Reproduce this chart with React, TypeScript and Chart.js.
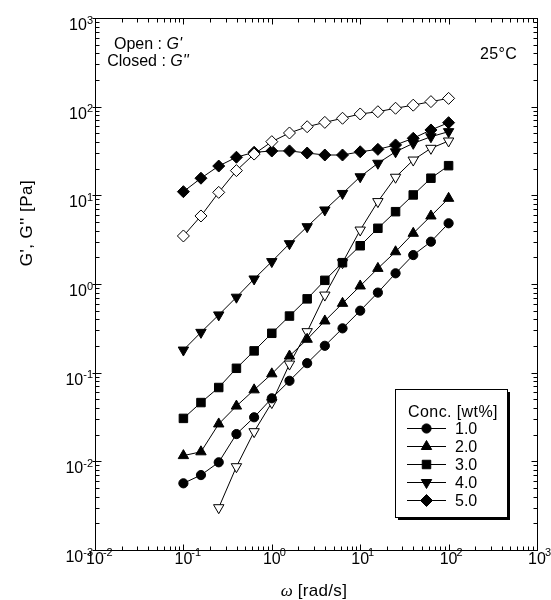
import React, { useEffect, useRef } from 'react';
import { Chart, registerables } from 'chart.js';

Chart.register(...registerables);

// Angular frequency ω [rad/s]
const omega = [0.1, 0.158, 0.251, 0.398, 0.631, 1.0, 1.585, 2.512, 3.981, 6.31, 10, 15.85, 25.12, 39.81, 63.1, 100];

// Loss modulus G'' [Pa] (closed symbols)
const gpp1 = [0.00565, 0.007, 0.00975, 0.0203, 0.0314, 0.0514, 0.081, 0.128, 0.201, 0.316, 0.5, 0.8, 1.32, 2.12, 3.0, 4.84];
const gpp2 = [0.0116, 0.0128, 0.0264, 0.042, 0.064, 0.097, 0.154, 0.238, 0.383, 0.605, 0.95, 1.5, 2.31, 3.73, 5.85, 9.25];
const gpp3 = [0.0305, 0.046, 0.068, 0.112, 0.176, 0.278, 0.435, 0.68, 1.1, 1.74, 2.7, 4.25, 6.54, 10.1, 15.6, 21.6];
const gpp4 = [0.18, 0.285, 0.448, 0.71, 1.14, 1.79, 2.85, 4.43, 6.84, 10.5, 16.2, 23, 31, 38.6, 45.8, 52.3];
const gpp5 = [11.0, 15.6, 21.4, 26.9, 30.6, 31.6, 31.7, 30.0, 28.5, 28.5, 31, 33, 37, 44, 54.6, 66];

// Storage modulus G' [Pa] (open symbols)
const gp4 = [null, null, 0.003, 0.0087, 0.0216, 0.046, 0.125, 0.29, 0.75, 1.74, 4.06, 8.5, 16, 25, 33.9, 41];
const gp5 = [3.48, 5.85, 10.8, 19.0, 29.2, 40.3, 50.5, 59.4, 66.5, 74, 82.7, 87.7, 96, 104, 114, 124];

const concLabels = ['1.0', '2.0', '3.0', '4.0', '5.0'];
const legendTitle = 'Conc. [wt%]';
const xTickExps = [-2, -1, 0, 1, 2, 3];
const yTickExps = [-3, -2, -1, 0, 1, 2, 3];
const tempLabel = '25°C';

const SANS = '"Liberation Sans", Arial, sans-serif';
const SERIF = '"Liberation Serif", "Times New Roman", serif';

type Run = { t: string; font: string; dy?: number; ls?: number };

function setLS(ctx: any, v: number) {
  if ('letterSpacing' in ctx) ctx.letterSpacing = `${v}px`;
}

function runsWidth(ctx: CanvasRenderingContext2D, runs: Run[]) {
  let w = 0;
  for (const r of runs) {
    ctx.font = r.font;
    setLS(ctx, r.ls || 0);
    w += ctx.measureText(r.t).width;
  }
  setLS(ctx, 0);
  return w;
}

function drawRuns(ctx: CanvasRenderingContext2D, runs: Run[], x: number, y: number, align: 'left' | 'center' | 'right') {
  const w = runsWidth(ctx, runs);
  let cx = align === 'left' ? x : align === 'center' ? x - w / 2 : x - w;
  ctx.textAlign = 'left';
  ctx.textBaseline = 'alphabetic';
  for (const r of runs) {
    ctx.font = r.font;
    setLS(ctx, r.ls || 0);
    ctx.fillText(r.t, cx, y + (r.dy || 0));
    cx += ctx.measureText(r.t).width;
  }
  setLS(ctx, 0);
}

function drawMarker(ctx: CanvasRenderingContext2D, style: string, rot: number, r: number, x: number, y: number, fill: string) {
  ctx.beginPath();
  if (style === 'circle') {
    ctx.arc(x, y, r, 0, Math.PI * 2);
  } else if (style === 'triangle') {
    let rad = (rot * Math.PI) / 180;
    ctx.moveTo(x + Math.sin(rad) * r, y - Math.cos(rad) * r);
    rad += (2 * Math.PI) / 3;
    ctx.lineTo(x + Math.sin(rad) * r, y - Math.cos(rad) * r);
    rad += (2 * Math.PI) / 3;
    ctx.lineTo(x + Math.sin(rad) * r, y - Math.cos(rad) * r);
    ctx.closePath();
  } else if (style === 'rect') {
    const s = Math.SQRT1_2 * r;
    ctx.rect(x - s, y - s, 2 * s, 2 * s);
  } else if (style === 'rectRot') {
    ctx.moveTo(x, y - r);
    ctx.lineTo(x + r, y);
    ctx.lineTo(x, y + r);
    ctx.lineTo(x - r, y);
    ctx.closePath();
  }
  ctx.fillStyle = fill;
  ctx.fill();
  ctx.lineWidth = 1;
  ctx.strokeStyle = '#000';
  ctx.stroke();
}

const legendMarkers = [
  { style: 'circle', rot: 0, r: 4.6 },
  { style: 'triangle', rot: 0, r: 6 },
  { style: 'rect', rot: 0, r: 6 },
  { style: 'triangle', rot: 180, r: 6 },
  { style: 'rectRot', rot: 0, r: 6 },
];

const decorPlugin = {
  id: 'decor',
  afterDraw(chart: any) {
    const { ctx, chartArea: a } = chart;
    const xs = chart.scales.x;
    const ys = chart.scales.y;
    ctx.save();
    ctx.strokeStyle = '#000';
    ctx.fillStyle = '#000';
    ctx.lineWidth = 1;
    const L = Math.round(a.left) + 0.5;
    const R = Math.round(a.right) + 0.5;
    const T = Math.round(a.top) + 0.5;
    const B = Math.round(a.bottom) + 0.5;
    // frame
    ctx.strokeRect(L, T, R - L, B - T);

    // ticks
    ctx.beginPath();
    for (const e of xTickExps) {
      for (let k = 1; k <= 9; k++) {
        const v = k * Math.pow(10, e);
        if (v > 1000.0001) break;
        const px = Math.round(xs.getPixelForValue(v)) + 0.5;
        const len = k === 1 ? 6 : 4;
        ctx.moveTo(px, B);
        ctx.lineTo(px, B - len);
        ctx.moveTo(px, T);
        ctx.lineTo(px, T + len);
      }
    }
    for (const e of yTickExps) {
      for (let k = 1; k <= 9; k++) {
        const v = k * Math.pow(10, e);
        if (v > 1000.0001) break;
        const py = Math.round(ys.getPixelForValue(v)) + 0.5;
        const len = k === 1 ? 6 : 4;
        ctx.moveTo(L - (k === 1 ? 3 : 0), py);
        ctx.lineTo(L + len, py);
        ctx.moveTo(R, py);
        ctx.lineTo(R - len, py);
      }
    }
    ctx.stroke();

    const base = `16px ${SANS}`;
    const sup = `11px ${SANS}`;
    // x tick labels
    for (const e of xTickExps) {
      const px = xs.getPixelForValue(Math.pow(10, e));
      ctx.font = base;
      const w10 = ctx.measureText('10').width;
      const left = px - w10 / 2;
      ctx.textAlign = 'left';
      ctx.textBaseline = 'alphabetic';
      ctx.fillText('10', left, a.bottom + 14);
      ctx.font = sup;
      ctx.fillText(String(e), left + w10 - 1, a.bottom + 6);
    }
    // y tick labels
    for (const e of yTickExps) {
      const py = ys.getPixelForValue(Math.pow(10, e));
      ctx.font = sup;
      const we = ctx.measureText(String(e)).width;
      ctx.font = base;
      const w10 = ctx.measureText('10').width;
      const right = a.left - 2;
      ctx.textAlign = 'left';
      ctx.textBaseline = 'alphabetic';
      ctx.fillText('10', right - we - w10, py + 12);
      ctx.font = sup;
      ctx.fillText(String(e), right - we, py + 5.5);
    }

    // axis titles
    drawRuns(ctx, [
      { t: 'ω', font: `italic 17px ${SERIF}` },
      { t: ' [rad/s]', font: `17px ${SANS}`, ls: 0.3 },
    ], (a.left + a.right) / 2 - 2, 596, 'center');

    ctx.save();
    ctx.translate(32, 223);
    ctx.rotate(-Math.PI / 2);
    drawRuns(ctx, [{ t: "G', G'' [Pa]", font: `17px ${SANS}`, ls: 0.5 }], 0, 0, 'center');
    ctx.restore();

    // annotations
    drawRuns(ctx, [
      { t: 'Open : ', font: `16px ${SANS}` },
      { t: "G'", font: `italic 16px ${SANS}` },
    ], 148, 48.5, 'center');
    drawRuns(ctx, [
      { t: 'Closed : ', font: `16px ${SANS}` },
      { t: "G''", font: `italic 16px ${SANS}` },
    ], 148, 65.5, 'center');
    drawRuns(ctx, [{ t: tempLabel, font: `16px ${SANS}`, ls: 0.3 }], 517, 59, 'right');

    // legend box
    const bx = 395, by = 389, bw = 112, bh = 128;
    ctx.fillStyle = '#000';
    ctx.fillRect(bx + 3, by + 3, bw, bh);
    ctx.fillStyle = '#fff';
    ctx.fillRect(bx, by, bw, bh);
    ctx.strokeStyle = '#000';
    ctx.lineWidth = 1;
    ctx.strokeRect(bx + 0.5, by + 0.5, bw, bh);
    ctx.fillStyle = '#000';
    drawRuns(ctx, [{ t: legendTitle, font: `16px ${SANS}`, ls: 0.4 }], bx + 58, by + 28, 'center');
    concLabels.forEach((lab, i) => {
      const cy = by + 39 + i * 18;
      ctx.beginPath();
      ctx.moveTo(bx + 12, cy + 0.5);
      ctx.lineTo(bx + 51, cy + 0.5);
      ctx.strokeStyle = '#000';
      ctx.lineWidth = 1;
      ctx.stroke();
      const m = legendMarkers[i];
      drawMarker(ctx, m.style, m.rot, m.r, bx + 31.5, cy + 0.5, '#000');
      ctx.fillStyle = '#000';
      drawRuns(ctx, [{ t: lab, font: `16px ${SANS}` }], bx + 60, cy + 6, 'left');
    });
    ctx.restore();
  },
};

const toPoints = (ys: (number | null)[]) =>
  omega.map((x, i) => ({ x, y: ys[i] })).filter((p) => p.y !== null) as { x: number; y: number }[];

function mkSet(label: string, ys: (number | null)[], style: string, rot: number, r: number, fill: string) {
  return {
    label,
    data: toPoints(ys),
    showLine: true,
    borderColor: '#000',
    borderWidth: 1,
    pointStyle: style,
    rotation: rot,
    pointRadius: r,
    pointBorderWidth: 1,
    pointBorderColor: '#000',
    pointBackgroundColor: fill,
    backgroundColor: fill,
    fill: false,
    tension: 0,
  };
}

export default function App() {
  const ref = useRef<HTMLCanvasElement | null>(null);
  useEffect(() => {
    if (!ref.current) return;
    const chart = new Chart(ref.current, {
      type: 'scatter',
      data: {
        datasets: [
          mkSet("G' 5.0", gp5, 'rectRot', 0, 6, '#fff'),
          mkSet("G'' 5.0", gpp5, 'rectRot', 0, 6, '#000'),
          mkSet("G'' 4.0", gpp4, 'triangle', 180, 6, '#000'),
          mkSet("G'' 3.0", gpp3, 'rect', 0, 6, '#000'),
          mkSet("G'' 2.0", gpp2, 'triangle', 0, 6, '#000'),
          mkSet("G'' 1.0", gpp1, 'circle', 0, 4.6, '#000'),
          mkSet("G' 4.0", gp4, 'triangle', 180, 6, '#fff'),
        ],
      },
      options: {
        responsive: false,
        animation: false,
        devicePixelRatio: 1,
        layout: { padding: { left: 95, right: 14, top: 18, bottom: 50 } },
        plugins: { legend: { display: false }, tooltip: { enabled: false } },
        scales: {
          x: { type: 'logarithmic', min: 0.01, max: 1000, display: false },
          y: { type: 'logarithmic', min: 0.001, max: 1000, display: false },
        },
      },
      plugins: [decorPlugin],
    } as any);
    return () => chart.destroy();
  }, []);
  return (
    <div style={{ position: 'fixed', left: 0, top: 0, width: 551, height: 600, background: '#fff' }}>
      <canvas ref={ref} width={551} height={600} style={{ display: 'block', width: 551, height: 600 }} />
    </div>
  );
}
